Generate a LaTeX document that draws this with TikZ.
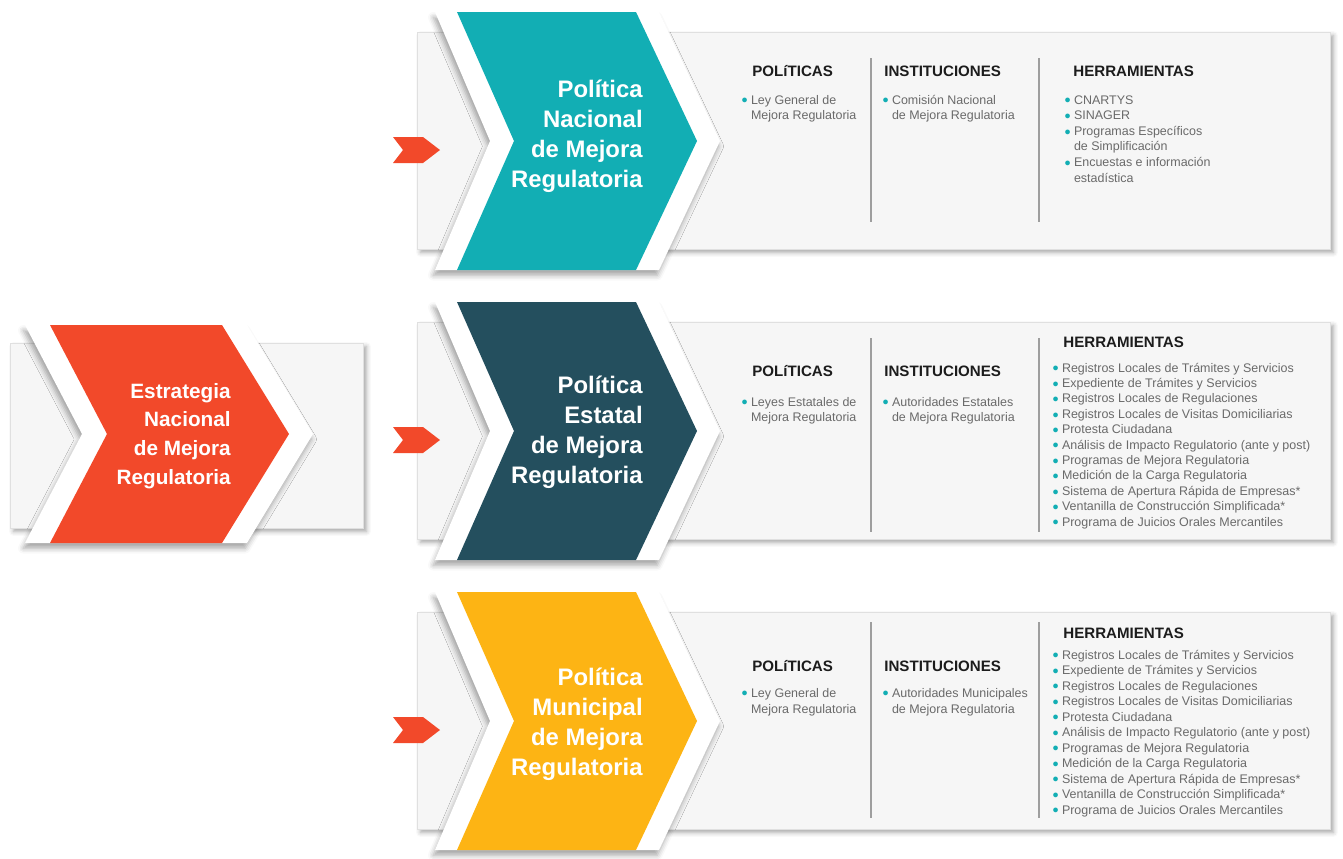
\documentclass[tikz,border=0pt]{standalone}
\usepackage{fontspec}
\setmainfont{Liberation Sans}
\usepackage{tikz}
\usetikzlibrary{shadows.blur}

\definecolor{rojo}{HTML}{F2492A}
\definecolor{turquesa}{HTML}{12AEB4}
\definecolor{pizarra}{HTML}{244F5E}
\definecolor{ambar}{HTML}{FDB414}
\definecolor{fondo}{HTML}{F6F6F6}
\definecolor{borde}{HTML}{E0E0E0}
\definecolor{texto}{HTML}{6A6A6A}
\definecolor{titulo}{HTML}{1C1C1C}

\newcommand{\pto}{\makebox[5.5pt][l]{\raisebox{0.1pt}{\textcolor{turquesa}{\fontsize{6.2}{6.2}\selectfont ●}}}}
\newcommand{\sgd}{\hspace*{5.5pt}}

\tikzset{
  panel/.style={fill=fondo, draw=borde, line width=0.4pt,
    blur shadow={shadow xshift=2pt, shadow yshift=-2pt, shadow blur radius=2.5pt, shadow opacity=35}},
  marco/.style={fill=white,
    blur shadow={shadow xshift=-1pt, shadow yshift=-3pt, shadow blur radius=3pt, shadow opacity=35}},
  division/.style={draw=black!38, line width=0.9pt},
  cab/.style={font=\fontsize{8.6}{10}\selectfont\bfseries, text=titulo, anchor=base west, inner sep=0pt},
  lista/.style={font=\fontsize{7.1}{8.8}\selectfont, text=texto, anchor=base west, inner sep=0pt},
  rotulo/.style={font=\fontsize{13.6}{17}\selectfont\bfseries, text=white, align=right, anchor=east, inner sep=0pt}
}

\begin{document}
\begin{tikzpicture}[x=0.02cm, y=-0.02cm]
\useasboundingbox (0,0) rectangle (1343,859);

% estrategia nacional
\draw[panel] (10,343) rectangle (363,528);
\path[marco] (25,325) -- (247,325) -- (313,434) -- (247,543) -- (25,543) -- (82,434) -- cycle;
\fill[rojo] (50,325) -- (222,325) -- (289,434) -- (222,543) -- (50,543) -- (107,434) -- cycle;
\node[rotulo, font=\fontsize{11.8}{16.4}\selectfont\bfseries] (enmr) at (231,436) {Estrategia\\Nacional\\de Mejora\\Regulatoria};

% politica nacional
\draw[panel] (417,32) rectangle (1330,249);
\path[marco] (435,12) -- (659,12) -- (720,141) -- (659,270) -- (435,270) -- (490,141) -- cycle;
\fill[turquesa] (457,12) -- (636,12) -- (697,141) -- (636,270) -- (457,270) -- (514,141) -- cycle;
\fill[rojo] (393,137) -- (423,137) -- (440,150) -- (423,163) -- (393,163) -- (403,150) -- cycle;
\node[rotulo] (pnmr) at (643,136) {Política\\Nacional\\de Mejora\\Regulatoria};
\draw[division] (871,58) -- (871,222);
\draw[division] (1039,58) -- (1039,222);
\node[cab] (pol1) at (752,76) {POLíTICAS};
\node[cab] (ins1) at (884,76) {INSTITUCIONES};
\node[cab] (her1) at (1073,76) {HERRAMIENTAS};
\node[lista] (pol1a) at (741,104) {\pto Ley General de};
\node[lista] (pol1b) at (741,119.5) {\sgd Mejora Regulatoria};
\node[lista] (ins1a) at (882,104) {\pto Comisión Nacional};
\node[lista] (ins1b) at (882,119.5) {\sgd de Mejora Regulatoria};
\foreach \t [count=\i] in {\pto CNARTYS, \pto SINAGER, \pto Programas Específicos, \sgd de Simplificación,
    \pto Encuestas e información, \sgd estadística}
  \node[lista] (her1-\i) at (1064,{104+15.6*(\i-1)}) {\t};

% politica estatal
\begin{scope}[shift={(0,290)}]
\draw[panel] (417,32) rectangle (1330,249);
\path[marco] (435,12) -- (659,12) -- (720,141) -- (659,270) -- (435,270) -- (490,141) -- cycle;
\fill[pizarra] (457,12) -- (636,12) -- (697,141) -- (636,270) -- (457,270) -- (514,141) -- cycle;
\fill[rojo] (393,137) -- (423,137) -- (440,150) -- (423,163) -- (393,163) -- (403,150) -- cycle;
\node[rotulo] (pemr) at (643,142) {Política\\Estatal\\de Mejora\\Regulatoria};
\draw[division] (871,48) -- (871,242);
\draw[division] (1039,48) -- (1039,242);
\node[cab] (pol2) at (752,86) {POLíTICAS};
\node[cab] (ins2) at (884,86) {INSTITUCIONES};
\node[cab] (her2) at (1063,57) {HERRAMIENTAS};
\node[lista] (pol2a) at (741,116) {\pto Leyes Estatales de};
\node[lista] (pol2b) at (741,131.5) {\sgd Mejora Regulatoria};
\node[lista] (ins2a) at (882,116) {\pto Autoridades Estatales};
\node[lista] (ins2b) at (882,131.5) {\sgd de Mejora Regulatoria};
\foreach \t [count=\i] in {Registros Locales de Trámites y Servicios, Expediente de Trámites y Servicios,
    Registros Locales de Regulaciones, Registros Locales de Visitas Domiciliarias, Protesta Ciudadana,
    Análisis de Impacto Regulatorio (ante y post), Programas de Mejora Regulatoria,
    Medición de la Carga Regulatoria, Sistema de Apertura Rápida de Empresas*,
    Ventanilla de Construcción Simplificada*, Programa de Juicios Orales Mercantiles}
  \node[lista] (her2-\i) at (1052,{82+15.4*(\i-1)}) {\pto\t};
\end{scope}

% politica municipal
\begin{scope}[shift={(0,580)}]
\draw[panel] (417,32) rectangle (1330,249);
\path[marco] (435,12) -- (659,12) -- (720,141) -- (659,270) -- (435,270) -- (490,141) -- cycle;
\fill[ambar] (457,12) -- (636,12) -- (697,141) -- (636,270) -- (457,270) -- (514,141) -- cycle;
\fill[rojo] (393,137) -- (423,137) -- (440,150) -- (423,163) -- (393,163) -- (403,150) -- cycle;
\node[rotulo] (pmmr) at (643,144) {Política\\Municipal\\de Mejora\\Regulatoria};
\draw[division] (871,42) -- (871,238);
\draw[division] (1039,42) -- (1039,238);
\node[cab] (pol3) at (752,91) {POLíTICAS};
\node[cab] (ins3) at (884,91) {INSTITUCIONES};
\node[cab] (her3) at (1063,58) {HERRAMIENTAS};
\node[lista] (pol3a) at (741,117) {\pto Ley General de};
\node[lista] (pol3b) at (741,133) {\sgd Mejora Regulatoria};
\node[lista] (ins3a) at (882,117) {\pto Autoridades Municipales};
\node[lista] (ins3b) at (882,133) {\sgd de Mejora Regulatoria};
\foreach \t [count=\i] in {Registros Locales de Trámites y Servicios, Expediente de Trámites y Servicios,
    Registros Locales de Regulaciones, Registros Locales de Visitas Domiciliarias, Protesta Ciudadana,
    Análisis de Impacto Regulatorio (ante y post), Programas de Mejora Regulatoria,
    Medición de la Carga Regulatoria, Sistema de Apertura Rápida de Empresas*,
    Ventanilla de Construcción Simplificada*, Programa de Juicios Orales Mercantiles}
  \node[lista] (her3-\i) at (1052,{79+15.5*(\i-1)}) {\pto\t};
\end{scope}
\end{tikzpicture}
\end{document}
